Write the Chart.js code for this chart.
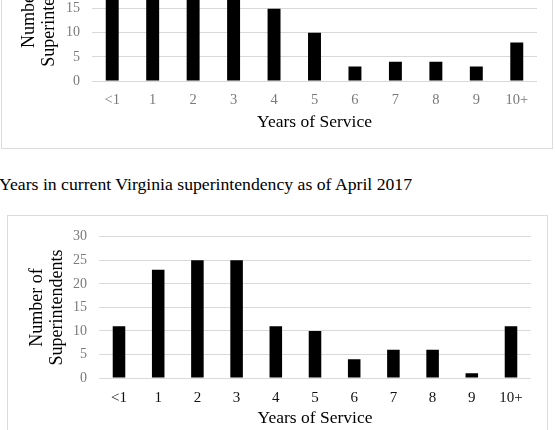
<!DOCTYPE html>
<html>
<head>
<meta charset="utf-8">
<script src="https://cdn.jsdelivr.net/npm/chart.js@4.4.1/dist/chart.umd.min.js"></script>
<style>
  html, body { margin: 0; padding: 0; background: #fff; width: 555px; height: 430px; overflow: hidden; position: relative; }
  .box { position: absolute; box-sizing: border-box; border: 1px solid #dcdcdc; background: #fff; }
  .caption { position: absolute; left: -1px; top: 174px; font-family: "Liberation Serif", "Times New Roman", serif; font-size: 17.7px; line-height: 20px; color: #000; white-space: nowrap; }
  canvas { display: block; }
</style>
</head>
<body>
<div class="box" style="left:1px; top:-85px; width:552px; height:234px;"><canvas id="c1" width="550" height="232"></canvas></div>
<div class="caption">Years in current Virginia superintendency as of April 2017</div>
<div class="box" style="left:7px; top:215px; width:541px; height:227px;"><canvas id="c2" width="539" height="225"></canvas></div>
<script>
const categories = ["<1", "1", "2", "3", "4", "5", "6", "7", "8", "9", "10+"];
// Top chart (partly cut off in the reference; first four bars exceed the visible area)
const topValues = [18, 20, 22, 19, 15, 10, 3, 4, 4, 3, 8];
// Bottom chart: years in current Virginia superintendency as of April 2017
const bottomValues = [11, 23, 25, 25, 11, 10, 4, 6, 6, 1, 11];
const yTicksMax = 30;
const yTickStep = 5;
const xTitle = "Years of Service";
const yTitle = ["Number of", "Superintendents"];

const serif = '"Liberation Serif", "Times New Roman", serif';

function makeChart(id, values, cfg) {
  return new Chart(document.getElementById(id), {
    type: 'bar',
    data: {
      labels: categories,
      datasets: [{
        data: values,
        backgroundColor: '#000',
        borderWidth: 0,
        categoryPercentage: 1,
        barPercentage: 0.32
      }]
    },
    options: {
      responsive: false,
      animation: false,
      devicePixelRatio: 1,
      layout: { padding: { left: 0, right: cfg.padRight, top: cfg.padTop, bottom: 0 } },
      plugins: { legend: { display: false }, tooltip: { enabled: false } },
      scales: {
        x: {
          grid: { display: false, drawTicks: false },
          border: { display: false },
          ticks: { color: cfg.xTickColor, font: { family: serif, size: cfg.xTickSize }, padding: cfg.xTickPad, autoSkip: false, maxRotation: 0 },
          title: { display: true, text: xTitle, color: '#000', font: { family: serif, size: 17.5, lineHeight: 1.2 }, padding: { top: 0, bottom: cfg.xTitlePad } },
          afterFit: (s) => { s.height = cfg.xHeight; }
        },
        y: {
          min: 0, max: yTicksMax,
          grid: { color: '#d9d9d9', lineWidth: 1, drawTicks: false },
          border: { display: false },
          ticks: { stepSize: yTickStep, color: '#7a7a7a', font: { family: serif, size: 14 }, padding: cfg.yTickPad },
          title: { display: true, text: yTitle, color: '#000', font: { family: serif, size: 18, lineHeight: 1.12 }, padding: { top: cfg.yTitlePad, bottom: 0 } },
          afterFit: (s) => { s.width = cfg.yWidth; }
        }
      }
    }
  });
}

makeChart('c1', topValues, {
  padRight: 15, padTop: 15, xHeight: 67, xTickPad: 10.5, xTitlePad: 15.5,
  xTickColor: '#7a7a7a', xTickSize: 14.5, yTickPad: 12, yTitlePad: 17.5, yWidth: 90
});
makeChart('c2', bottomValues, {
  padRight: 16.4, padTop: 15, xHeight: 63, xTickPad: 11, xTitlePad: 12.5,
  xTickColor: '#111', xTickSize: 15, yTickPad: 12.4, yTitlePad: 19, yWidth: 91.4
});
</script>
</body>
</html>
